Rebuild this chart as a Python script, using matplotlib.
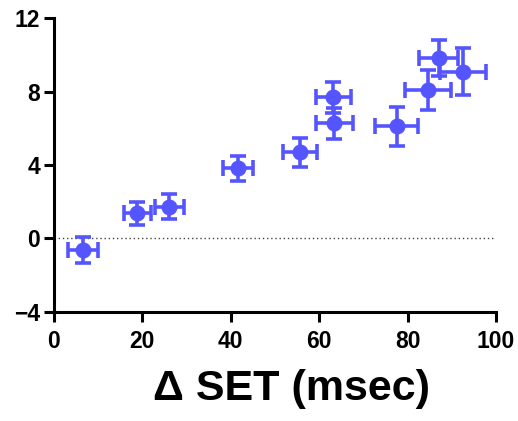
import matplotlib.pyplot as plt

plt.rcParams["font.family"] = ["Liberation Sans", "DejaVu Sans"]
plt.rcParams["font.weight"] = "bold"

# delta SET vs response, mean +/- SEM in both directions
delta_set = [6.5, 18.9, 26.1, 41.7, 55.7, 63.2, 63.4, 77.5, 84.7, 87.0, 92.6]
delta_set_err = [3.4, 3.0, 3.25, 3.4, 3.8, 3.9, 4.2, 4.9, 5.2, 4.3, 5.2]
response = [-0.63, 1.37, 1.73, 3.82, 4.69, 7.68, 6.27, 6.12, 8.08, 9.81, 9.08]
response_err = [0.71, 0.62, 0.68, 0.69, 0.79, 0.82, 0.84, 1.06, 1.1, 0.98, 1.29]

x_ticks = [0, 20, 40, 60, 80, 100]
y_ticks = [-4, 0, 4, 8, 12]

color = "#5555ff"

fig = plt.figure(figsize=(5.18, 4.21), dpi=100)
ax = fig.add_axes([0.104, 0.259, 0.8535, 0.698])

ax.axhline(0, color="#444444", linestyle=(0, (1, 2)), linewidth=1, zorder=1)
ax.errorbar(
    delta_set,
    response,
    xerr=delta_set_err,
    yerr=response_err,
    fmt="o",
    color=color,
    ecolor=color,
    markersize=10.5,
    elinewidth=2.6,
    capsize=5.5,
    capthick=2.6,
    zorder=3,
)

ax.set_xlim(0, 100)
ax.set_ylim(-4, 12)
ax.set_xticks(x_ticks)
ax.set_yticks(y_ticks)
for side in ["top", "right"]:
    ax.spines[side].set_visible(False)
for side in ["left", "bottom"]:
    ax.spines[side].set_linewidth(2.2)
ax.tick_params(direction="out", length=7, width=2.2, labelsize=16.5)
ax.tick_params(axis="x", pad=6)
ax.tick_params(axis="y", pad=3)
for lbl in ax.get_xticklabels() + ax.get_yticklabels():
    lbl.set_fontweight("bold")

ax.set_xlabel("Δ SET (msec)", fontsize=31, fontweight="bold")
ax.xaxis.set_label_coords(0.538, -0.195)

fig.savefig("out.png", dpi=100)
